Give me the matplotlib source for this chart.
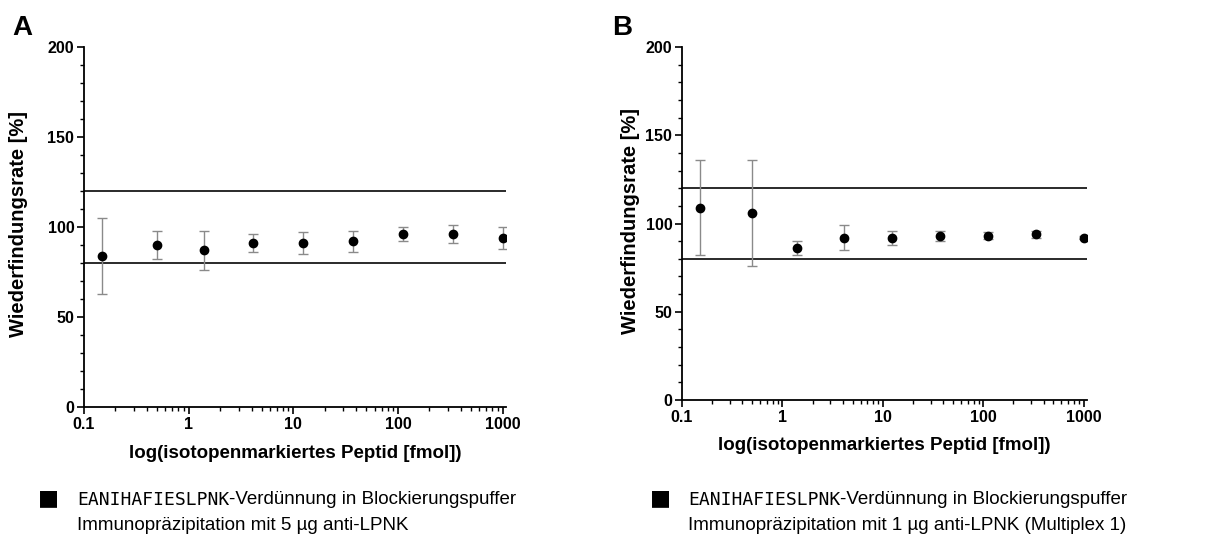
import matplotlib
matplotlib.use("Agg")
import matplotlib.pyplot as plt
from matplotlib.ticker import LogLocator, MultipleLocator, NullFormatter

# ---- data ----
conc = [0.15, 0.5, 1.4, 4.1, 12.3, 37, 111, 333, 1000]
rec_A = [84, 90, 87, 91, 91, 92, 96, 96, 94]
err_A = [21, 8, 11, 5, 6, 6, 4, 5, 6]
rec_B = [109, 106, 86, 92, 92, 93, 93, 94, 92]
err_B = [27, 30, 4, 7, 4, 3, 2, 2, 1]
limits = [80, 120]
xticks = [0.1, 1, 10, 100, 1000]
xticklabels = ["0.1", "1", "10", "100", "1000"]
yticks = [0, 50, 100, 150, 200]
panel_letters = ["A", "B"]
peptide = "EANIHAFIESLPNK"
legend_rest = "-Verdünnung in Blockierungspuffer"
legend_line2 = ["Immunopräzipitation mit 5 µg anti-LPNK",
                "Immunopräzipitation mit 1 µg anti-LPNK (Multiplex 1)"]
ylabel = "Wiederfindungsrate [%]"
xlabel = "log(isotopenmarkiertes Peptid [fmol])"

plt.rcParams['font.family'] = ['Liberation Sans', 'DejaVu Sans']

W, H = 1213, 542
fig = plt.figure(figsize=(W / 100, H / 100), dpi=100)

# axes rectangles in pixels: left, right, top, bottom
rects = [(84, 506, 47, 407), (682, 1087, 47, 400)]
data = [(rec_A, err_A), (rec_B, err_B)]
letter_pos = [(12, 28), (612, 28)]
legend_x = [(48, 77), (660, 688)]
ylabel_x = [19, 630]
xlabel_y = [453, 445]

for i in range(2):
    l, r, t, b = rects[i]
    ax = fig.add_axes([l / W, 1 - b / H, (r - l) / W, (b - t) / H])
    ax.set_xscale('log')
    ax.set_xlim(0.1, 1080)
    ax.set_ylim(0, 200)
    for yv in limits:
        ax.axhline(yv, color='#2a2a2a', lw=1.4, zorder=1)
    rec, err = data[i]
    ax.errorbar(conc, rec, yerr=err, fmt='none', ecolor='#8a8a8a',
                elinewidth=1.0, capsize=3.5, capthick=1.0, zorder=2)
    ax.plot(conc, rec, 'o', color='black', markersize=6, zorder=3)
    for s in ['top', 'right']:
        ax.spines[s].set_visible(False)
    for s in ['left', 'bottom']:
        ax.spines[s].set_linewidth(1.3)
    ax.set_xticks(xticks)
    ax.set_xticklabels(xticklabels)
    ax.xaxis.set_minor_locator(LogLocator(base=10, subs=range(2, 10)))
    ax.xaxis.set_minor_formatter(NullFormatter())
    ax.set_yticks(yticks)
    ax.yaxis.set_minor_locator(MultipleLocator(10))
    ax.tick_params(which='major', length=5, width=1.2, labelsize=11.5, pad=2)
    ax.tick_params(which='minor', length=3, width=1.0)
    for lab in ax.get_xticklabels() + ax.get_yticklabels():
        lab.set_fontweight('bold')

    fig.text((l + r) / 2 / W, 1 - xlabel_y[i] / H, xlabel, fontsize=13.5,
             fontweight='bold', va='center', ha='center')
    fig.text(ylabel_x[i] / W, 1 - ((t + b) / 2 - 3) / H, ylabel,
             fontsize=14.5, fontweight='bold', rotation=90,
             va='center', ha='center')

    lx, ly = letter_pos[i]
    fig.text(lx / W, 1 - ly / H, panel_letters[i], fontsize=20,
             fontweight='bold', va='center', ha='left')

    sx, tx = legend_x[i]
    fig.text(sx / W, 1 - 498 / H, "\u25A0", fontsize=16,
             family='DejaVu Sans', va='center', ha='center')
    t1 = fig.text(tx / W, 1 - 500 / H, peptide, fontsize=13,
                  family='DejaVu Sans Mono', va='center', ha='left')
    ax.annotate(legend_rest, xy=(1, 0.5), xycoords=t1, va='center',
                ha='left', fontsize=13.5, annotation_clip=False)
    fig.text(tx / W, 1 - 525 / H, legend_line2[i], fontsize=13.5,
             va='center', ha='left')

fig.savefig("out.png", dpi=100)
